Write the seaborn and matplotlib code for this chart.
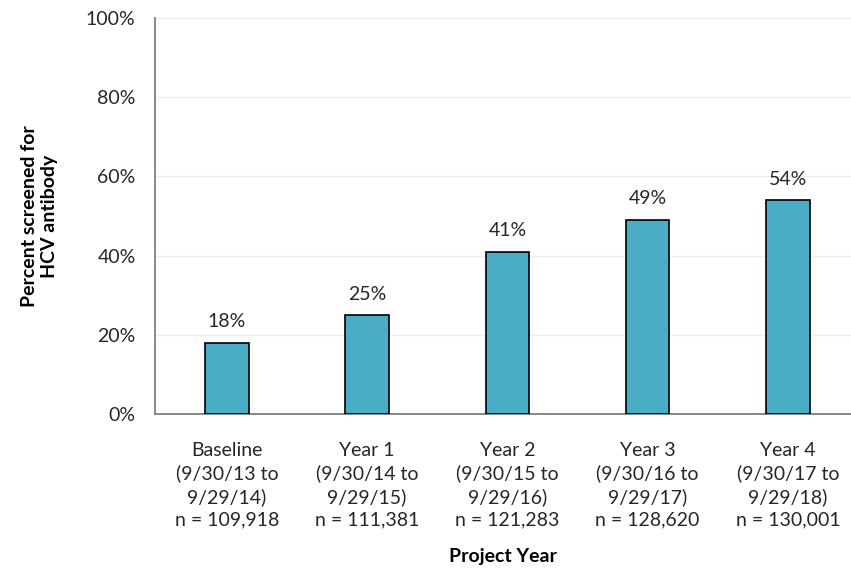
import matplotlib
matplotlib.use("Agg")
import matplotlib.pyplot as plt
import seaborn as sns
import pandas as pd

categories = ["Baseline\n(9/30/13 to\n9/29/14)\nn = 109,918",
              "Year 1\n(9/30/14 to\n9/29/15)\nn = 111,381",
              "Year 2\n(9/30/15 to\n9/29/16)\nn = 121,283",
              "Year 3\n(9/30/16 to\n9/29/17)\nn = 128,620",
              "Year 4\n(9/30/17 to\n9/29/18)\nn = 130,001"]
values = [18, 25, 41, 49, 54]
value_labels = ["18%", "25%", "41%", "49%", "54%"]
yticks = [0, 20, 40, 60, 80, 100]
ytick_labels = ["0%", "20%", "40%", "60%", "80%", "100%"]

sns.set_theme(style="white")
plt.rcParams['font.family'] = ['Lato', 'DejaVu Sans']

df = pd.DataFrame({"cat": categories, "val": values})

fig = plt.figure(figsize=(8.51, 5.71), dpi=100)
ax = fig.add_axes([155/851, (571-414)/571, 1 - 155/851, (414-18)/571])

sns.barplot(data=df, x="cat", y="val", color="#4BACC6", width=0.31,
            edgecolor="black", linewidth=1.2, saturation=1, ax=ax, zorder=3)

fs = 14
ax.set_ylim(0, 100)
ax.set_xlim(-0.513, 4.45)
ax.set_yticks(yticks)
ax.set_yticklabels(ytick_labels, fontsize=fs, color="#262626")
ax.tick_params(axis="x", labelsize=fs, colors="#262626", length=0, pad=20)
ax.tick_params(axis="y", length=0, pad=14)
for lab in ax.get_xticklabels():
    lab.set_linespacing(1.38)
ax.yaxis.grid(True, color="#EDEDED", linewidth=1, zorder=0)
ax.set_axisbelow(True)

for s in ["top", "right"]:
    ax.spines[s].set_visible(False)
for s in ["left", "bottom"]:
    ax.spines[s].set_color("#7F7F7F")
    ax.spines[s].set_linewidth(1.3)

ax.bar_label(ax.containers[0], labels=value_labels, padding=9, fontsize=fs, color="#262626")

ax.set_xlabel("Project Year", fontsize=fs, fontweight="bold", color="black", labelpad=14)
ax.set_ylabel("Percent screened for\nHCV antibody", fontsize=fs, fontweight="bold", color="black", labelpad=20)

fig.savefig("out.png", dpi=100)
